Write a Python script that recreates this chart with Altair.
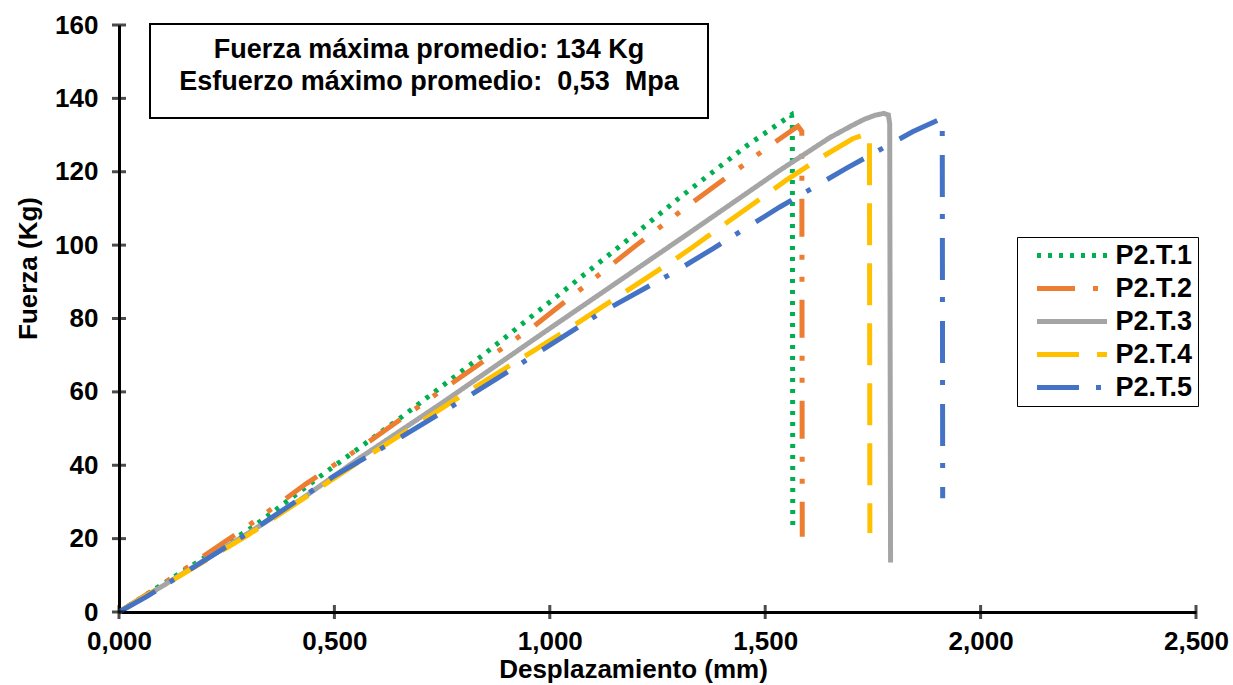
import altair as alt
import pandas as pd

series = ["P2.T.1", "P2.T.2", "P2.T.3", "P2.T.4", "P2.T.5"]
colors = ["#00B050", "#ED7D31", "#A5A5A5", "#FFC000", "#4472C4"]
dashes = [[4, 7], [38, 18, 5, 17, 5, 18], [1, 0], [42, 18], [42, 17, 5, 19]]

t1_x = [0, 0.1, 0.311, 0.466, 0.652, 0.85, 1.0, 1.204, 1.302, 1.456, 1.561, 1.563, 1.564]
t1_y = [0, 7.5, 23.2, 36.9, 52.8, 70.5, 84.5, 103.6, 113, 127, 135.5, 134, 23]
t2_x = [0, 0.1, 0.3, 0.435, 0.575, 0.75, 0.961, 1.201, 1.317, 1.507, 1.576, 1.585, 1.586]
t2_y = [0, 7.5, 23.5, 35, 46, 60.5, 77.7, 100, 110.4, 126.8, 132.4, 131, 20.5]
t3_x = [0, 0.1, 0.3, 0.42, 0.559, 0.75, 1.0, 1.332, 1.534, 1.65, 1.70, 1.73, 1.755, 1.775, 1.786, 1.789, 1.791]
t3_y = [0, 7, 21.5, 30.5, 42, 57, 77.3, 104, 120.4, 129.3, 132.5, 134.3, 135.4, 135.9, 135.5, 133, 13.5]
t4_x = [0, 0.1, 0.3, 0.575, 0.791, 1.039, 1.294, 1.332, 1.549, 1.627, 1.703, 1.739, 1.742, 1.743]
t4_y = [0, 7, 21, 42.3, 58.7, 76.8, 96.4, 99.5, 117.7, 123.7, 129, 130.5, 128, 21.5]
t5_x = [0, 0.064, 0.3, 0.497, 0.652, 0.807, 0.961, 1.116, 1.294, 1.378, 1.534, 1.688, 1.842, 1.909, 1.911, 1.912]
t5_y = [0, 4.2, 21.5, 36.9, 47.5, 58.5, 69.8, 81.4, 93, 99, 110.4, 120.9, 130.9, 134.5, 132, 31]

x_ticks = [0, 0.5, 1.0, 1.5, 2.0, 2.5]
y_ticks = [0, 20, 40, 60, 80, 100, 120, 140, 160]
note_lines = ["Fuerza máxima promedio: 134 Kg", "Esfuerzo máximo promedio:\u00a0 0,53\u00a0 Mpa"]

rows = []
for name, xs_, ys_ in zip(series, [t1_x, t2_x, t3_x, t4_x, t5_x], [t1_y, t2_y, t3_y, t4_y, t5_y]):
    for i, (a, b) in enumerate(zip(xs_, ys_)):
        rows.append({"serie": name, "x": a, "y": b, "i": i})
df = pd.DataFrame(rows)

FONT = "Liberation Sans"
FS = 26
xscale = alt.Scale(domain=[0, 2.5], nice=False, zero=False)
yscale = alt.Scale(domain=[0, 160], nice=False)

x_axis = alt.Axis(
    values=x_ticks, labelExpr="replace(format(datum.value, '.3f'), '.', ',')",
    labelFlush=False, title="Desplazamiento (mm)", titleX=514, titleY=57,
    titleBaseline="middle", titleAnchor="start", titleAlign="center", labelPadding=16)
y_axis = alt.Axis(
    values=y_ticks, title="Fuerza (Kg)", titleX=-91, titleY=243, titleAngle=270,
    titleAlign="center", titleBaseline="middle", labelPadding=21, labelFlush=False)

legend = alt.Legend(
    title=None, orient="none", legendX=898, legendY=212,
    symbolType="M-3.5,0H3.5", symbolSize=400, symbolStrokeWidth=5,
    labelFont=FONT, labelFontSize=27, labelFontWeight="bold", labelColor="black",
    labelExpr="datum.label + '\u00a0\u00a0\u00a0'",
    labelOffset=30, strokeColor="black", fillColor="white", padding=5,
    symbolOffset=36.5, rowPadding=5,
)

lines = alt.Chart(df).mark_line(strokeWidth=5).encode(
    x=alt.X("x:Q", scale=xscale, axis=x_axis),
    y=alt.Y("y:Q", scale=yscale, axis=y_axis),
    color=alt.Color("serie:N", scale=alt.Scale(domain=series, range=colors), legend=legend),
    strokeDash=alt.StrokeDash("serie:N", scale=alt.Scale(domain=series, range=dashes), legend=legend),
    order="i:Q",
)

tick_x = alt.Chart(pd.DataFrame({"v": x_ticks})).mark_tick(
    orient="vertical", size=14, thickness=3, color="black").encode(
    x=alt.X("v:Q", scale=xscale, axis=x_axis), y=alt.datum(0))
tick_y = alt.Chart(pd.DataFrame({"v": y_ticks})).mark_tick(
    orient="horizontal", size=14, thickness=3, color="black").encode(
    y=alt.Y("v:Q", scale=yscale, axis=y_axis), x=alt.datum(0))

one = pd.DataFrame({"a": [0]})
box = alt.Chart(one).mark_rect(fill="white", stroke="black", strokeWidth=2).encode(
    x=alt.value(31), x2=alt.value(589), y=alt.value(-1), y2=alt.value(93))
note = alt.Chart(one).mark_text(
    align="center", baseline="middle", font=FONT, fontSize=27, fontWeight="bold",
    color="black", lineBreak="\n", lineHeight=32).encode(
    x=alt.value(310), y=alt.value(25), text=alt.value("\n".join(note_lines)))

chart = alt.layer(box, note, lines, tick_x, tick_y).properties(
    width=1077, height=587,
    autosize=alt.AutoSizeParams(type="none"),
    padding={"left": 119, "top": 25, "right": 37, "bottom": 73},
    background="white",
).configure_view(stroke=None).configure_axis(
    grid=False, ticks=False, domainColor="black", domainWidth=3,
    labelFont=FONT, labelFontSize=FS, labelFontWeight="bold", labelColor="black",
    titleFont=FONT, titleFontSize=FS, titleFontWeight="bold", titleColor="black",
)

chart.save("out.html", embed_options={"renderer": "svg", "actions": False})
